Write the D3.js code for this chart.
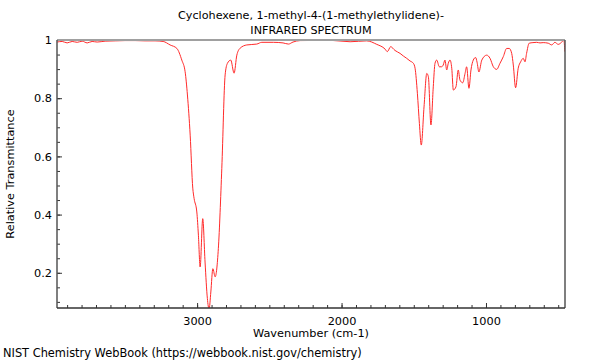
<html>
<head>
    <meta charset="UTF-8" />
    <script src="https://d3js.org/d3.v7.min.js"></script>
    <style>
        body { margin: 0; background: white; }
        text { font-family: "DejaVu Sans", sans-serif; fill: #000; }
        .axis .domain { stroke: none; }
        .axis line { stroke: #333; }
        .axis text { font-size: 11.3px; }
    </style>
</head>
<body>
<svg id="svg" width="600" height="360"></svg>
<script>
    // spectrum: wavenumber (cm-1) and transmittance
    const wavenumbers = [3969, 3934, 3900, 3865, 3830, 3796, 3761, 3727, 3692, 3637,
        3567, 3498, 3429, 3360, 3291, 3235, 3187, 3140, 3106, 3083,
        3067, 3048, 3030, 3021, 3002, 2991, 2979, 2961, 2945, 2929,
        2917, 2905, 2891, 2875, 2853, 2829, 2806, 2790, 2767, 2744,
        2725, 2702, 2656, 2587, 2552, 2472, 2405, 2368, 2336, 2287,
        2080, 1941, 1826, 1756, 1699, 1683, 1660, 1630, 1595, 1572,
        1549, 1526, 1503, 1491, 1475, 1461, 1448, 1429, 1410, 1399,
        1381, 1365, 1353, 1341, 1323, 1307, 1296, 1284, 1272, 1261,
        1249, 1237, 1226, 1208, 1192, 1180, 1161, 1145, 1134, 1118,
        1104, 1088, 1072, 1062, 1049, 1029, 995, 972, 949, 926,
        903, 880, 857, 839, 822, 811, 795, 777, 760, 742,
        730, 719, 701, 675, 649, 626, 604, 569, 545, 523,
        500, 477, 461, 454];
    const transmittance = [0.993, 0.995, 0.990, 0.995, 0.992, 0.996, 0.990, 0.995, 0.993, 0.996,
        0.997, 0.998, 0.998, 0.997, 0.997, 0.995, 0.983, 0.971, 0.931, 0.891,
        0.811, 0.673, 0.491, 0.456, 0.409, 0.329, 0.220, 0.386, 0.237, 0.112,
        0.075, 0.134, 0.214, 0.186, 0.283, 0.559, 0.880, 0.920, 0.931, 0.886,
        0.948, 0.972, 0.983, 0.986, 0.992, 0.992, 0.990, 0.986, 0.993, 0.998,
        0.999, 0.994, 0.997, 0.985, 0.969, 0.960, 0.977, 0.964, 0.954, 0.945,
        0.937, 0.928, 0.920, 0.903, 0.817, 0.713, 0.639, 0.770, 0.885, 0.874,
        0.708, 0.839, 0.920, 0.931, 0.908, 0.908, 0.914, 0.931, 0.897, 0.920,
        0.931, 0.903, 0.828, 0.839, 0.897, 0.862, 0.853, 0.885, 0.908, 0.834,
        0.897, 0.931, 0.940, 0.924, 0.890, 0.931, 0.948, 0.937, 0.908, 0.899,
        0.920, 0.943, 0.971, 0.971, 0.954, 0.914, 0.836, 0.903, 0.925, 0.937,
        0.925, 0.954, 0.989, 0.991, 0.992, 0.990, 0.991, 0.989, 0.983, 0.992,
        0.985, 0.992, 1.000, 0.960];

    const xMajorTicks = [3000, 2000, 1000];
    const xMinorTicks = d3.range(3900, 499, -100);
    const yMajorTicks = [0.2, 0.4, 0.6, 0.8, 1];
    const yMinorTicks = d3.range(0.1, 0.99, 0.05);

    const svg = d3.select("svg#svg");
    const margin = {top: 40, right: 35, bottom: 52, left: 57};
    const width = 600, height = 360;
    const chartWidth = width - margin.left - margin.right;
    const chartHeight = height - margin.top - margin.bottom;

    const xScale = d3.scaleLinear().domain([3970, 453]).range([0, chartWidth]);
    const yScale = d3.scaleLinear().domain([0.079, 1.0]).range([chartHeight, 0]);

    const chart = svg.append("g")
        .attr("transform", "translate(" + margin.left + "," + margin.top + ")");

    chart.append("clipPath").attr("id", "clip")
        .append("rect").attr("width", chartWidth).attr("height", chartHeight);

    // axes with inward ticks
    chart.append("g").attr("class", "axis")
        .attr("transform", "translate(0," + chartHeight + ")")
        .call(d3.axisBottom(xScale).tickValues(xMinorTicks).tickSize(-3).tickFormat(""));
    chart.append("g").attr("class", "axis")
        .attr("transform", "translate(0," + chartHeight + ")")
        .call(d3.axisBottom(xScale).tickValues(xMajorTicks).tickSize(-5).tickPadding(9).tickFormat(d3.format("d")));
    chart.append("g").attr("class", "axis")
        .call(d3.axisLeft(yScale).tickValues(yMinorTicks).tickSize(-3).tickFormat(""));
    chart.append("g").attr("class", "axis")
        .call(d3.axisLeft(yScale).tickValues(yMajorTicks).tickSize(-5).tickPadding(5).tickFormat(d3.format("~g")));

    // spectrum
    const points = wavenumbers.map((w, i) => [w, transmittance[i]]);
    const line = d3.line()
        .x(d => xScale(d[0]))
        .y(d => yScale(d[1]))
        .curve(d3.curveMonotoneX);
    chart.append("path")
        .datum(points)
        .attr("clip-path", "url(#clip)")
        .attr("fill", "none")
        .attr("stroke", "#ff2a2a")
        .attr("stroke-width", 1)
        .attr("d", line);

    // frame
    chart.append("line").attr("x1", 0).attr("x2", chartWidth).attr("y1", 0).attr("y2", 0)
        .attr("stroke", "#a0a0a0").attr("stroke-width", 2);
    chart.append("line").attr("x1", 0).attr("x2", 0).attr("y1", 0).attr("y2", chartHeight)
        .attr("stroke", "#555").attr("stroke-width", 1.5);
    chart.append("line").attr("x1", chartWidth).attr("x2", chartWidth).attr("y1", 0).attr("y2", chartHeight)
        .attr("stroke", "#555").attr("stroke-width", 1.5);
    chart.append("line").attr("x1", 0).attr("x2", chartWidth).attr("y1", chartHeight).attr("y2", chartHeight)
        .attr("stroke", "#333").attr("stroke-width", 1.5);

    // titles and labels
    const cx = margin.left + chartWidth / 2;
    svg.append("text").attr("x", cx).attr("y", 19).attr("text-anchor", "middle")
        .style("font-size", "11.2px").text("Cyclohexene, 1-methyl-4-(1-methylethylidene)-");
    svg.append("text").attr("x", cx).attr("y", 34).attr("text-anchor", "middle")
        .style("font-size", "11.2px").text("INFRARED SPECTRUM");
    svg.append("text").attr("x", cx).attr("y", 337).attr("text-anchor", "middle")
        .style("font-size", "11.3px").text("Wavenumber (cm-1)");
    svg.append("text")
        .attr("transform", "translate(14," + (margin.top + chartHeight / 2) + ") rotate(-90)")
        .attr("text-anchor", "middle")
        .style("font-size", "11.3px").text("Relative Transmittance");
    svg.append("text").attr("x", 3).attr("y", 357)
        .style("font-size", "11.4px").text("NIST Chemistry WebBook (https://webbook.nist.gov/chemistry)");
</script>
</body>
</html>
